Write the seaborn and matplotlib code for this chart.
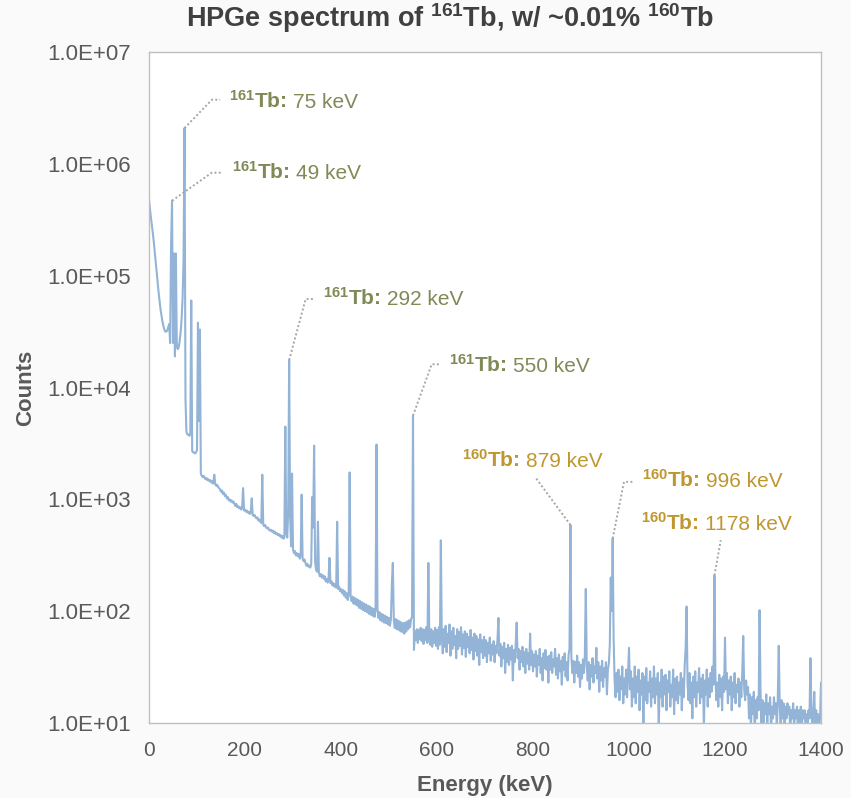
import numpy as np
import pandas as pd
import matplotlib
matplotlib.use("Agg")
import matplotlib.pyplot as plt
import seaborn as sns
from matplotlib.ticker import FuncFormatter, NullLocator

# ---------------- data ----------------
energy_step_kev = 2

counts_000_098 = [478000, 398000, 331000, 282000, 240000, 200000, 162000, 132000, 105000, 85000,
                  71000, 59000, 50000, 44000, 39000, 35500, 33000, 31600, 31600, 32400,
                  34700, 37000, 25000, 195000, 468000, 25000, 158000, 19000, 158000, 23000,
                  22000, 23000, 26300, 31600, 41700, 63000, 141000, 2090000, 7900, 4000,
                  3800, 3800, 3700, 3800, 60000, 2700, 2630, 2630, 2570, 2630]
counts_100_198 = [2750, 38000, 5000, 33000, 1700, 1620, 1580, 1620, 1550, 1510,
                  1550, 1480, 1510, 1450, 1480, 1410, 1450, 1380, 1660, 1380,
                  1320, 1350, 1290, 1260, 1230, 1170, 1200, 1120, 1150, 1070,
                  1100, 1020, 1050, 980, 1000, 955, 980, 935, 955, 910,
                  870, 910, 850, 870, 830, 850, 810, 830, 1260, 795]
counts_200_298 = [810, 775, 795, 760, 775, 740, 760, 1020, 725, 710,
                  725, 690, 675, 690, 645, 660, 630, 615, 1660, 590,
                  575, 590, 560, 550, 560, 535, 525, 535, 515, 525,
                  500, 515, 490, 500, 480, 490, 470, 480, 455, 470,
                  445, 455, 4470, 500, 455, 795, 17600, 710, 380, 1700]
counts_300_398 = [355, 330, 345, 315, 330, 310, 325, 295, 315, 1100,
                  295, 280, 290, 270, 255, 265, 250, 255, 245, 265,
                  1050, 560, 3020, 280, 235, 225, 630, 220, 205, 215,
                  200, 210, 195, 205, 185, 195, 180, 190, 300, 178,
                  186, 170, 178, 166, 174, 162, 630, 158, 166, 151]
counts_400_498 = [158, 145, 155, 138, 151, 132, 145, 126, 141, 1740,
                  138, 123, 135, 117, 132, 115, 129, 112, 126, 107,
                  123, 105, 120, 102, 117, 100, 115, 98, 112, 95,
                  110, 93, 107, 91, 105, 89, 102, 3090, 105, 87,
                  98, 83, 95, 81, 93, 79, 91, 78, 89, 76]
counts_500_598 = [87, 74, 85, 178, 270, 83, 71, 85, 69, 83,
                  68, 81, 66, 79, 65, 78, 63, 79, 66, 81,
                  69, 83, 72, 85, 89, 5600, 45, 66, 55, 69,
                  52, 68, 56, 71, 54, 69, 51, 68, 55, 72,
                  52, 270, 63, 50, 69, 48, 66, 52, 71, 49]
counts_600_698 = [68, 46, 72, 50, 430, 60, 42, 69, 48, 74,
                  43, 63, 52, 76, 40, 66, 46, 71, 50, 60,
                  38, 69, 46, 65, 49, 72, 41, 62, 47, 66,
                  39, 63, 48, 59, 42, 68, 45, 58, 37, 63,
                  44, 60, 40, 56, 33, 62, 43, 55, 38, 59]
counts_700_798 = [40, 55, 35, 52, 42, 58, 36, 50, 41, 54,
                  35, 49, 42, 56, 87, 40, 51, 32, 48, 38,
                  52, 28, 46, 35, 50, 33, 47, 37, 49, 24,
                  45, 35, 51, 79, 38, 46, 30, 44, 35, 48,
                  32, 43, 28, 46, 34, 42, 30, 63, 33, 44]
counts_800_898 = [29, 41, 32, 44, 26, 40, 33, 46, 28, 38,
                  24, 42, 31, 45, 30, 39, 23, 40, 30, 43,
                  28, 37, 32, 46, 27, 38, 25, 41, 29, 36,
                  22, 39, 30, 42, 26, 35, 24, 40, 46, 590,
                  38, 28, 36, 23, 35, 28, 40, 26, 35, 21]
counts_900_998 = [33, 25, 37, 28, 40, 158, 32, 24, 35, 20,
                  33, 26, 38, 23, 32, 28, 47, 25, 35, 19,
                  32, 24, 36, 21, 31, 26, 35, 18, 30, 34,
                  50, 200, 100, 447, 56, 24, 17, 28, 19, 30,
                  16, 26, 20, 32, 15, 25, 18, 30, 17, 28]
counts_1000_1098 = [47, 20, 29, 14, 25, 17, 32, 15, 26, 19,
                    30, 13, 24, 18, 28, 9, 26, 16, 31, 15,
                    23, 19, 29, 14, 25, 17, 32, 15, 25, 18,
                    28, 9, 23, 17, 30, 14, 26, 18, 27, 13,
                    24, 19, 29, 14, 22, 17, 30, 12, 25, 16]
counts_1100_1198 = [26, 15, 23, 18, 28, 13, 25, 17, 32, 47,
                    110, 22, 16, 28, 15, 23, 11, 26, 17, 29,
                    14, 23, 19, 31, 15, 25, 17, 27, 9, 24,
                    18, 30, 14, 25, 17, 28, 19, 32, 22, 209,
                    26, 16, 23, 14, 27, 17, 25, 13, 26, 19]
counts_1200_1298 = [58, 20, 28, 15, 24, 18, 26, 13, 23, 17,
                    28, 15, 22, 19, 25, 14, 23, 17, 29, 60,
                    20, 16, 24, 18, 21, 11, 18, 9, 17, 12,
                    19, 8, 16, 11, 17, 13, 102, 20, 9, 16,
                    8, 15, 12, 18, 9, 15, 12, 17, 8, 14]
counts_1300_1400 = [11, 17, 12, 15, 9, 17, 49, 14, 9, 16,
                    11, 15, 8, 14, 11, 15, 12, 14, 8, 13,
                    11, 15, 9, 13, 11, 14, 8, 13, 10, 14,
                    9, 13, 11, 13, 8, 12, 10, 13, 11, 38,
                    13, 9, 12, 19, 9, 13, 8, 12, 9, 11,
                    23]

peak_energy = [74, 48, 292, 550, 878, 966, 1178]
peak_isotope = ["161", "161", "161", "161", "160", "160", "160"]
peak_text = ["75 keV", "49 keV", "292 keV", "550 keV", "879 keV", "996 keV", "1178 keV"]

x_ticks = [0, 200, 400, 600, 800, 1000, 1200, 1400]
y_ticks = [1e1, 1e2, 1e3, 1e4, 1e5, 1e6, 1e7]

title_main = "HPGe spectrum of "
title_iso1 = "161"
title_mid = "Tb, w/ ~0.01% "
title_iso2 = "160"
title_end = "Tb"

counts = (counts_000_098 + counts_100_198 + counts_200_298 + counts_300_398 +
          counts_400_498 + counts_500_598 + counts_600_698 + counts_700_798 +
          counts_800_898 + counts_900_998 + counts_1000_1098 + counts_1100_1198 +
          counts_1200_1298 + counts_1300_1400)
energy = np.arange(len(counts)) * energy_step_kev
df = pd.DataFrame({"Energy (keV)": energy, "Counts": counts})

# ---------------- styling ----------------
sns.set_theme(style="white")
plt.rcParams["font.family"] = ["Liberation Sans", "DejaVu Sans"]
plt.rcParams["mathtext.fontset"] = "custom"
plt.rcParams["mathtext.rm"] = "Liberation Sans"
plt.rcParams["mathtext.bf"] = "Liberation Sans:bold"
plt.rcParams["mathtext.it"] = "Liberation Sans:italic"

LINE = "#93B4D6"
GREY = "#595959"
OLIVE = "#7F8A57"
GOLD = "#C0962F"
LEADER = "#A6A6A6"

W, H, DPI = 851, 798, 100
fig = plt.figure(figsize=(W / DPI, H / DPI), dpi=DPI, facecolor="#fafafa")
ax = fig.add_axes([149 / W, 1 - 723 / H, 672 / W, 671 / H])
ax.set_facecolor("white")

sns.lineplot(data=df, x="Energy (keV)", y="Counts", ax=ax, color=LINE,
             linewidth=1.5, estimator=None, errorbar=None)

ax.set_yscale("log")
ax.set_xlim(0, 1400)
ax.set_ylim(10, 1e7)
ax.set_xticks(x_ticks)
ax.set_yticks(y_ticks)
ax.yaxis.set_minor_locator(NullLocator())
ax.yaxis.set_major_formatter(FuncFormatter(lambda v, _: f"{v:.1E}"))
ax.xaxis.set_major_formatter(FuncFormatter(lambda v, _: f"{int(round(v))}"))
ax.tick_params(axis="both", length=0, labelcolor=GREY, pad=13)
ax.tick_params(axis="x", labelsize=15)
ax.tick_params(axis="y", labelsize=16)

for s in ax.spines.values():
    s.set_visible(True)
    s.set_color("#BFBFBF")
    s.set_linewidth(1.0)

ax.set_xlabel("Energy (keV)", fontsize=16, fontweight="bold", color=GREY, labelpad=11)
ax.set_ylabel("Counts", fontsize=16, fontweight="bold", color=GREY, labelpad=8)

fig.text(450 / W, 1 - 27 / H,
         title_main + r"$^{\mathbf{" + title_iso1 + r"}}$" + title_mid +
         r"$^{\mathbf{" + title_iso2 + r"}}$" + title_end,
         ha="center", va="baseline", fontsize=19.5, fontweight="bold", color="#404040")

# ---------------- peak annotations ----------------
# layout offsets in pixels relative to the peak tip (dx right, dy up)
leader_px = [
    [(27.4, 28.3), (35.7, 28.3)],
    [(39.7, 28.0), (49.7, 28.0)],
    [(16.5, 61.0), (25.8, 61.0)],
    [(18.7, 51.4), (27.0, 51.4)],
    [(-35.4, 48.1)],
    [(11.3, 56.6), (20.6, 56.6)],
    [(6.3, 35.2)],
]
text_px = [(44.5, 20.0), (59.7, 21.7), (33.5, 55.0), (36.3, 43.6),
           (-108.7, 57.8), (29.0, 51.3), (-73.7, 45.2)]

pt = 72.0 / DPI
counts_by_energy = dict(zip(df["Energy (keV)"], df["Counts"]))
fig.canvas.draw()
for i, e in enumerate(peak_energy):
    c = counts_by_energy[e]
    col = OLIVE if peak_isotope[i] == "161" else GOLD
    tip = ax.transData.transform((e, c))
    xs = [tip[0]] + [tip[0] + d[0] for d in leader_px[i]]
    ys = [tip[1]] + [tip[1] + d[1] for d in leader_px[i]]
    ax.plot(xs, ys, transform=None, color=LEADER, linestyle=(0, (1, 1.2)),
            linewidth=1.4, clip_on=False, solid_capstyle="butt")
    t1 = ax.annotate(r"$^{\mathbf{" + peak_isotope[i] + r"}}$Tb:", xy=(e, c),
                     xytext=(text_px[i][0] * pt, text_px[i][1] * pt),
                     textcoords="offset points", ha="left", va="baseline",
                     fontsize=15, fontweight="bold", color=col, annotation_clip=False)
    ax.annotate(peak_text[i], xy=(1, 0), xycoords=t1, xytext=(4.5, 0),
                textcoords="offset points", ha="left", va="bottom",
                fontsize=15, color=col, annotation_clip=False)

fig.savefig("out.png", dpi=DPI, facecolor=fig.get_facecolor())
